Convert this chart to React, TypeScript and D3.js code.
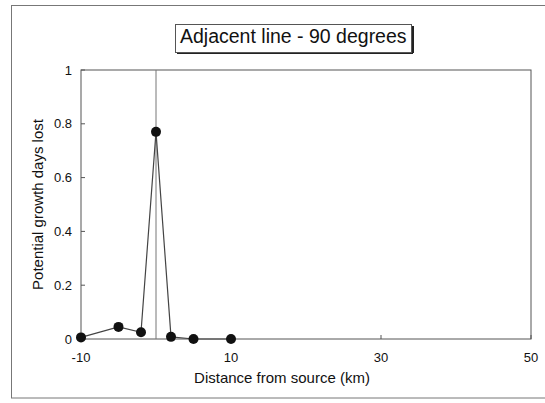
import React from 'react';
import * as d3 from 'd3';

const distances = [-10, -5, -2, 0, 2, 5, 10];
const daysLost = [0.006, 0.045, 0.025, 0.77, 0.008, 0.0, 0.0];
const xTicks = [-10, 10, 30, 50];
const yTicks = [0, 0.2, 0.4, 0.6, 0.8, 1];
const sourceAt = 0;

const W = 545, H = 403;
const margin = { top: 70, right: 14, bottom: 64, left: 81 };
const plotW = W - margin.left - margin.right;
const plotH = H - margin.top - margin.bottom;

const font = 'Arial, "Liberation Sans", Helvetica, sans-serif';

export default function App() {
    const x = d3.scaleLinear().domain([-10, 50]).range([0, plotW]);
    const y = d3.scaleLinear().domain([0, 1]).range([plotH, 0]);

    const data = distances.map((d, i) => ({ d, v: daysLost[i] }));
    const line = d3.line<{ d: number; v: number }>()
        .x(p => x(p.d))
        .y(p => y(p.v));

    return (
        <svg width={W} height={H} style={{ position: 'absolute', left: 0, top: 0, background: '#fff' }}
            fontFamily={font}>
            {/* outer frame */}
            <rect x={11.5} y={5.5} width={560} height={392.5} fill="none" stroke="#777" strokeWidth={1} />

            {/* title box with shadow */}
            <line x1={177} y1={53} x2={413} y2={53} stroke="#222" strokeWidth={2} />
            <line x1={413} y1={26} x2={413} y2={53} stroke="#222" strokeWidth={2} />
            <rect x={175.5} y={24.5} width={236} height={28} fill="#fff" stroke="#555" strokeWidth={1} />
            <text x={180} y={43} fontSize={19.5} fill="#111">Adjacent line - 90 degrees</text>

            <g transform={`translate(${margin.left},${margin.top})`}>
                <rect x={0} y={0} width={plotW} height={plotH} fill="none" stroke="#555" strokeWidth={1} />

                {/* y ticks */}
                {yTicks.map(t => (
                    <g key={'y' + t} transform={`translate(0,${y(t)})`}>
                        <line x1={0} x2={4} stroke="#555" />
                        <text x={-9} dy="0.35em" textAnchor="end" fontSize={13} fill="#111">{t}</text>
                    </g>
                ))}

                {/* x ticks */}
                {xTicks.map(t => (
                    <g key={'x' + t} transform={`translate(${x(t)},${plotH})`}>
                        <line y1={0} y2={-4} stroke="#555" />
                        <text y={23} textAnchor="middle" fontSize={13} fill="#111">{t}</text>
                    </g>
                ))}

                {/* source marker */}
                <line x1={x(sourceAt)} x2={x(sourceAt)} y1={0} y2={plotH} stroke="#777" strokeWidth={1} />

                <path d={line(data) || ''} fill="none" stroke="#444" strokeWidth={1.2} />
                {data.map((p, i) => (
                    <circle key={i} cx={x(p.d)} cy={y(p.v)} r={5} fill="#111" />
                ))}

                <text x={plotW / 2 - 24} y={plotH + 44} textAnchor="middle" fontSize={15} fill="#111">
                    Distance from source (km)
                </text>
                <text transform={`translate(${-38},${plotH / 2}) rotate(-90)`} textAnchor="middle"
                    fontSize={15} fill="#111">
                    Potential growth days lost
                </text>
            </g>
        </svg>
    );
}
